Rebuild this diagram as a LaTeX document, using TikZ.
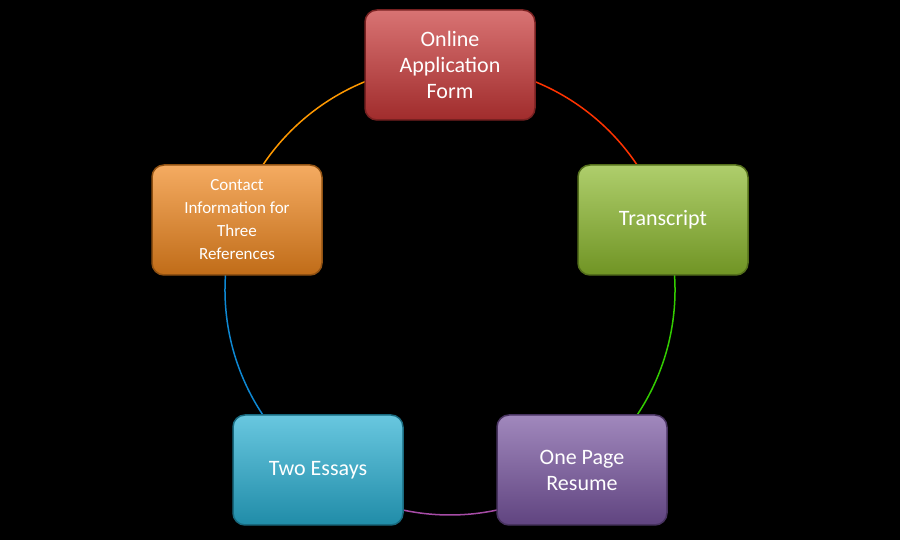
\documentclass[tikz,border=0pt]{standalone}
\usepackage{fontspec}
\setmainfont{Carlito}
\begin{document}
\begin{tikzpicture}[x=1pt,y=1pt,
  box/.style={rounded corners=12pt,minimum width=170pt,minimum height=110pt,draw=#1!60!black,line width=1.5pt,text=white,align=center,font=\fontsize{22}{26}\selectfont,top color=#1!70!white,bottom color=#1!80!black,inner sep=2pt},
  seg/.style={line width=1.5pt}]
\fill[black] (0,0) rectangle (900,540);
\coordinate (c) at (450,250);
\draw[seg,color=red!60!orange] (c) ++(90:225) arc[start angle=90,end angle=18,radius=225];
\draw[seg,color=green!60!olive] (c) ++(18:225) arc[start angle=18,end angle=-54,radius=225];
\draw[seg,color=violet!70!white] (c) ++(-54:225) arc[start angle=-54,end angle=-126,radius=225];
\draw[seg,color=cyan!70!blue] (c) ++(-126:225) arc[start angle=-126,end angle=-198,radius=225];
\draw[seg,color=orange!80!yellow] (c) ++(162:225) arc[start angle=162,end angle=90,radius=225];
\definecolor{cr}{RGB}{200,55,55}
\definecolor{cg}{RGB}{140,185,45}
\definecolor{cp}{RGB}{120,85,160}
\definecolor{cb}{RGB}{40,175,210}
\definecolor{co}{RGB}{240,135,30}
\node[box=cr] (a) at (450,475) {Online\\Application\\Form};
\node[box=cg] (b) at (663,320) {Transcript};
\node[box=cp] (d) at (582,70) {One Page\\Resume};
\node[box=cb] (e) at (318,70) {Two Essays};
\node[box=co,font=\fontsize{17}{23}\selectfont] (f) at (237,320) {Contact\\Information for\\Three\\References};
\end{tikzpicture}
\end{document}
